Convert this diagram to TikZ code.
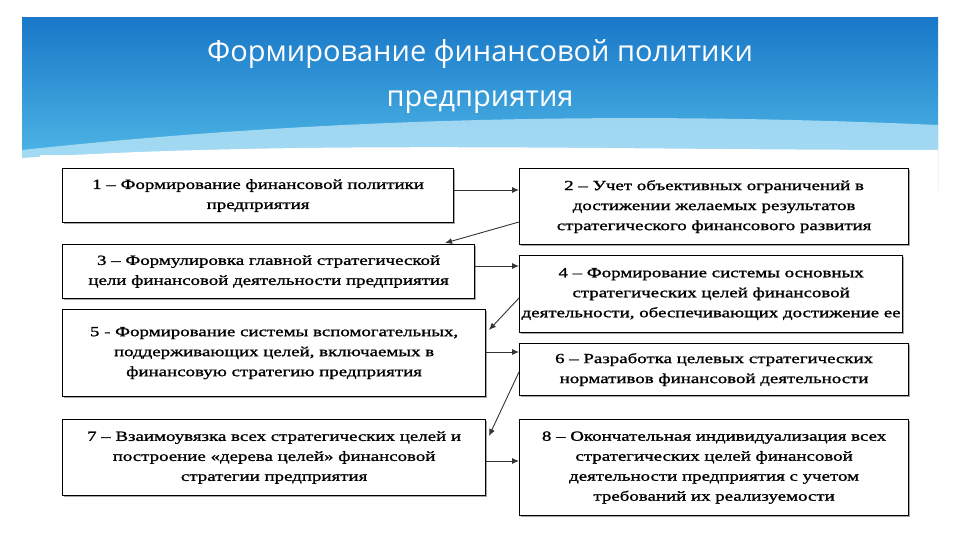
\documentclass[tikz,border=0pt]{standalone}
\usepackage{fontspec}
\setmainfont{Liberation Serif}
\newfontfamily\titlefont{Open Sans}
\newfontfamily\boxfont[FakeStretch=1.35,FakeBold=1.2]{Liberation Serif}
\usetikzlibrary{arrows.meta,shadows}
\definecolor{htop}{RGB}{25,120,200}
\definecolor{hbot}{RGB}{90,195,235}
\definecolor{hwave}{RGB}{200,235,250}
\begin{document}
\begin{tikzpicture}[x=1pt,y=-1pt,
  box/.style={draw=black,line width=1.2pt,fill=white,align=center,inner sep=2pt,
    font=\boxfont\fontsize{14}{20}\selectfont,anchor=north west,
    drop shadow={shadow xshift=1.5pt,shadow yshift=-1.5pt,fill=gray!70,opacity=1}},
  arr/.style={-{Latex[length=7pt,width=6pt]},line width=0.9pt,draw=black!80}]
\useasboundingbox (0,0) rectangle (960,540);
\fill[white] (0,0) rectangle (960,540);
\shade[top color=htop,bottom color=hbot] (22,18) rectangle (938,190);
\fill[hwave,opacity=0.7] (22,150) .. controls (300,120) and (600,110) .. (938,125) -- (938,190) -- (22,190) -- cycle;
\fill[white] (22,158) .. controls (300,140) and (600,150) .. (938,150) -- (938,540) -- (22,540) -- cycle;
\fill[white] (40,155) rectangle (915,520);
\node[text=white,align=center,font=\titlefont\fontsize{29}{45}\selectfont] (title) at (480,76) {Формирование финансовой политики\\предприятия};
\node[box,minimum width=391pt,minimum height=54pt] (b1) at (62,168) {1 – Формирование финансовой политики\\предприятия};
\node[box,minimum width=389pt,minimum height=76pt] (b2) at (519,168) {2 – Учет объективных ограничений в\\достижении желаемых результатов\\стратегического финансового развития};
\node[box,minimum width=412pt,minimum height=54pt] (b3) at (62,244) {3 – Формулировка главной стратегической\\цели финансовой деятельности предприятия};
\node[box,minimum width=378pt,minimum height=77pt] (b4) at (519,255) {4 – Формирование системы основных\\стратегических целей финансовой\\деятельности, обеспечивающих достижение ее};
\node[box,minimum width=423pt,minimum height=87pt] (b5) at (62,309) {5 - Формирование системы вспомогательных,\\поддерживающих целей, включаемых в\\финансовую стратегию предприятия};
\node[box,minimum width=389pt,minimum height=52pt] (b6) at (519,343) {6 – Разработка целевых стратегических\\нормативов финансовой деятельности};
\node[box,minimum width=423pt,minimum height=76pt] (b7) at (62,419) {7 – Взаимоувязка всех стратегических целей и\\построение «дерева целей» финансовой\\стратегии предприятия};
\node[box,minimum width=389pt,minimum height=96pt] (b8) at (519,419) {8 – Окончательная индивидуализация всех\\стратегических целей финансовой\\деятельности предприятия с учетом\\требований их реализуемости};
\draw[arr] (b1.east |- 0,190) -- (b2.west |- 0,190);
\draw[arr] (b2.west |- 0,222) -- (445,243);
\draw[arr] (b3.east |- 0,266) -- (b4.west |- 0,266);
\draw[arr] (b4.west |- 0,298) -- (489,330);
\draw[arr] (b5.east |- 0,352) -- (b6.west |- 0,352);
\draw[arr] (b6.west |- 0,372) -- (489,436);
\draw[arr] (b7.east |- 0,461) -- (b8.west |- 0,461);
\end{tikzpicture}
\end{document}
